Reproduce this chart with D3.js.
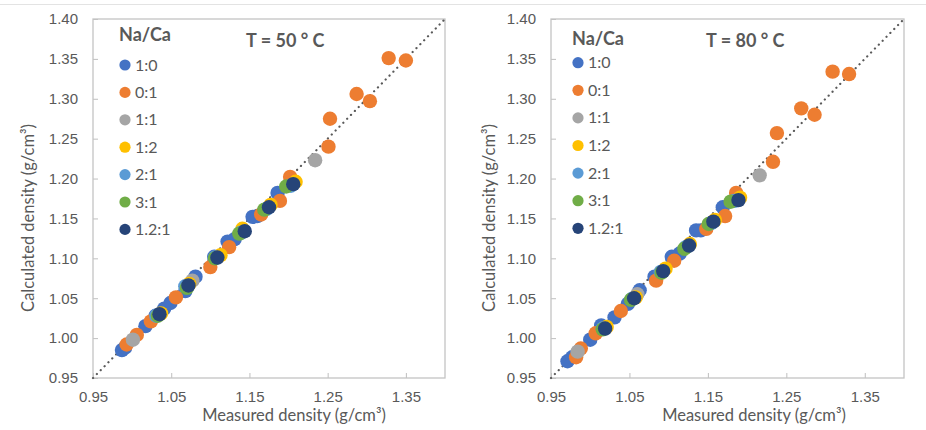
<!DOCTYPE html>
<html>
<head>
<meta charset="utf-8">
<script src="https://cdn.jsdelivr.net/npm/d3@7"></script>
<style>
  body { margin: 0; background: #fff; }
  svg { display: block; font-family: Lato, "Open Sans", sans-serif; }
  .tick text { fill: #595959; font-size: 15px; }
  .tick line { stroke: #BFBFBF; }
</style>
</head>
<body>
<script>
const seriesNames = ["1:0", "0:1", "1:1", "1:2", "2:1", "3:1", "1.2:1"];
const colors = ["#4472C4", "#ED7D31", "#A5A5A5", "#FFC000", "#5B9BD5", "#70AD47", "#264478"];
const xTicks = [0.95, 1.05, 1.15, 1.25, 1.35];
const yTicks = [0.95, 1.0, 1.05, 1.1, 1.15, 1.2, 1.25, 1.3, 1.35, 1.4];

// [measured, calculated] at 50 °C
const na1ca0_50 = [[0.987, 0.985], [0.991, 0.988], [1.017, 1.015], [1.030, 1.028], [1.041, 1.037], [1.049, 1.044], [1.068, 1.059], [1.081, 1.077], [1.105, 1.102], [1.122, 1.121], [1.131, 1.124], [1.154, 1.152], [1.160, 1.153], [1.186, 1.182]];
const na0ca1_50 = [[0.993, 0.992], [1.006, 1.004], [1.024, 1.021], [1.056, 1.051], [1.100, 1.089], [1.124, 1.114], [1.165, 1.155], [1.189, 1.172], [1.202, 1.202], [1.251, 1.240], [1.253, 1.275], [1.287, 1.306], [1.304, 1.297], [1.328, 1.351], [1.350, 1.348]];
const na1ca1_50 = [[1.001, 0.998], [1.077, 1.072], [1.234, 1.223]];
const na1ca2_50 = [[1.037, 1.031], [1.073, 1.068], [1.113, 1.104], [1.141, 1.137], [1.177, 1.167], [1.209, 1.196]];
const na2ca1_50 = [[1.031, 1.028], [1.068, 1.065], [1.106, 1.101], [1.139, 1.132], [1.172, 1.162], [1.203, 1.191]];
const na3ca1_50 = [[1.033, 1.028], [1.070, 1.063], [1.106, 1.100], [1.137, 1.131], [1.169, 1.161], [1.197, 1.190]];
const na12ca1_50 = [[1.035, 1.030], [1.072, 1.066], [1.109, 1.101], [1.144, 1.134], [1.175, 1.164], [1.206, 1.193]];

// [measured, calculated] at 80 °C
const na1ca0_80 = [[0.971, 0.971], [0.977, 0.976], [1.000, 0.998], [1.014, 1.016], [1.031, 1.026], [1.048, 1.043], [1.063, 1.060], [1.082, 1.077], [1.104, 1.102], [1.114, 1.106], [1.135, 1.135], [1.141, 1.135], [1.169, 1.164]];
const na0ca1_80 = [[0.982, 0.976], [0.988, 0.987], [1.007, 1.006], [1.039, 1.034], [1.084, 1.072], [1.107, 1.097], [1.148, 1.137], [1.172, 1.153], [1.186, 1.182], [1.233, 1.221], [1.238, 1.257], [1.269, 1.288], [1.286, 1.280], [1.309, 1.334], [1.330, 1.331]];
const na1ca1_80 = [[0.984, 0.983], [1.060, 1.055], [1.216, 1.204]];
const na1ca2_80 = [[1.021, 1.014], [1.058, 1.051], [1.096, 1.087], [1.127, 1.118], [1.159, 1.148], [1.191, 1.176]];
const na2ca1_80 = [[1.016, 1.012], [1.053, 1.049], [1.090, 1.083], [1.122, 1.114], [1.154, 1.144], [1.184, 1.172]];
const na3ca1_80 = [[1.016, 1.011], [1.052, 1.048], [1.091, 1.082], [1.120, 1.112], [1.151, 1.143], [1.179, 1.171]];
const na12ca1_80 = [[1.019, 1.012], [1.056, 1.050], [1.093, 1.084], [1.126, 1.116], [1.157, 1.146], [1.189, 1.173]];

const width = 926;
const height = 430;
const plotTop = 19;
const plotBottom = 378;
const textColor = "#595959";

const svg = d3
  .select("body")
  .append("svg")
  .attr("width", width)
  .attr("height", height);

// faint line along the top of the picture
svg
  .append("line")
  .attr("x1", 0)
  .attr("x2", width)
  .attr("y1", 4.5)
  .attr("y2", 4.5)
  .attr("stroke", "#E3E3E3")
  .attr("stroke-width", 1);

const panels = [
  {
    title: "T = 50 ° C",
    series: [na1ca0_50, na0ca1_50, na1ca1_50, na1ca2_50, na2ca1_50, na3ca1_50, na12ca1_50],
    left: 93,
    right: 445,
    titleX: 246,
    legendX: 119,
    legendTitleY: 40.5,
    legendY: 65,
    legendStep: 27.4,
    xLabelX: 294,
    yLabelX: 34,
  },
  {
    title: "T = 80 ° C",
    series: [na1ca0_80, na0ca1_80, na1ca1_80, na1ca2_80, na2ca1_80, na3ca1_80, na12ca1_80],
    left: 551,
    right: 904,
    titleX: 706,
    legendX: 572,
    legendTitleY: 45,
    legendY: 62.7,
    legendStep: 27.6,
    xLabelX: 754,
    yLabelX: 495,
  },
];

const drawPanel = (p) => {
  const g = svg.append("g");
  const x = d3.scaleLinear().domain([0.95, 1.4]).range([p.left, p.right]);
  const y = d3.scaleLinear().domain([0.95, 1.4]).range([plotBottom, plotTop]);

  // X-Axis
  g.append("g")
    .attr("transform", `translate(0, ${plotBottom})`)
    .call(d3.axisBottom(x).tickValues(xTicks).tickSize(-5).tickPadding(13).tickFormat(d3.format(".2f")))
    .call((a) => a.select(".domain").remove());

  // Y-Axis
  g.append("g")
    .attr("transform", `translate(${p.left}, 0)`)
    .call(d3.axisLeft(y).tickValues(yTicks).tickSize(-5).tickPadding(15).tickFormat(d3.format(".2f")))
    .call((a) => a.select(".domain").remove());

  // plot area border
  g.append("rect")
    .attr("x", x(0.95))
    .attr("y", y(1.4))
    .attr("width", x(1.4) - x(0.95))
    .attr("height", y(0.95) - y(1.4))
    .attr("fill", "none")
    .attr("stroke", "#C4C4C4")
    .attr("stroke-width", 1.3);

  // y = x reference line
  g.append("line")
    .attr("x1", x(0.95))
    .attr("y1", y(0.95))
    .attr("x2", x(1.4))
    .attr("y2", y(1.4))
    .attr("stroke", textColor)
    .attr("stroke-width", 2.2)
    .attr("stroke-linecap", "round")
    .attr("stroke-dasharray", "0.1 5.4");

  // points, one group per series so later series sit on top
  p.series.forEach((pts, i) => {
    g.append("g")
      .selectAll("circle")
      .data(pts)
      .enter()
      .append("circle")
      .attr("cx", (d) => x(d[0]))
      .attr("cy", (d) => y(d[1]))
      .attr("r", 7.2)
      .attr("fill", colors[i]);
  });

  // Legend
  const legend = g.append("g");
  legend
    .append("text")
    .attr("x", p.legendX)
    .attr("y", p.legendTitleY)
    .attr("fill", textColor)
    .attr("font-size", 18)
    .attr("font-weight", "bold")
    .text("Na/Ca");

  const items = legend
    .selectAll(".item")
    .data(seriesNames)
    .enter()
    .append("g")
    .attr("class", "item")
    .attr("transform", (d, i) => `translate(${p.legendX + 6}, ${p.legendY + i * p.legendStep})`);

  items.append("circle").attr("r", 5.6).attr("fill", (d, i) => colors[i]);
  items
    .append("text")
    .attr("x", 10)
    .attr("y", 5.5)
    .attr("fill", textColor)
    .attr("font-size", 16)
    .text((d) => d);

  // panel title
  g.append("text")
    .attr("x", p.titleX)
    .attr("y", 46.5)
    .attr("fill", textColor)
    .attr("font-size", 18)
    .attr("font-weight", "bold")
    .text(p.title);

  // axis titles
  g.append("text")
    .attr("x", p.xLabelX)
    .attr("y", 421)
    .attr("text-anchor", "middle")
    .attr("fill", textColor)
    .attr("font-size", 16.5)
    .text("Measured density (g/cm³)");

  g.append("text")
    .attr("transform", `translate(${p.yLabelX}, 218) rotate(-90)`)
    .attr("text-anchor", "middle")
    .attr("fill", textColor)
    .attr("font-size", 16.5)
    .text("Calculated density (g/cm³)");
};

panels.forEach(drawPanel);
</script>
</body>
</html>
